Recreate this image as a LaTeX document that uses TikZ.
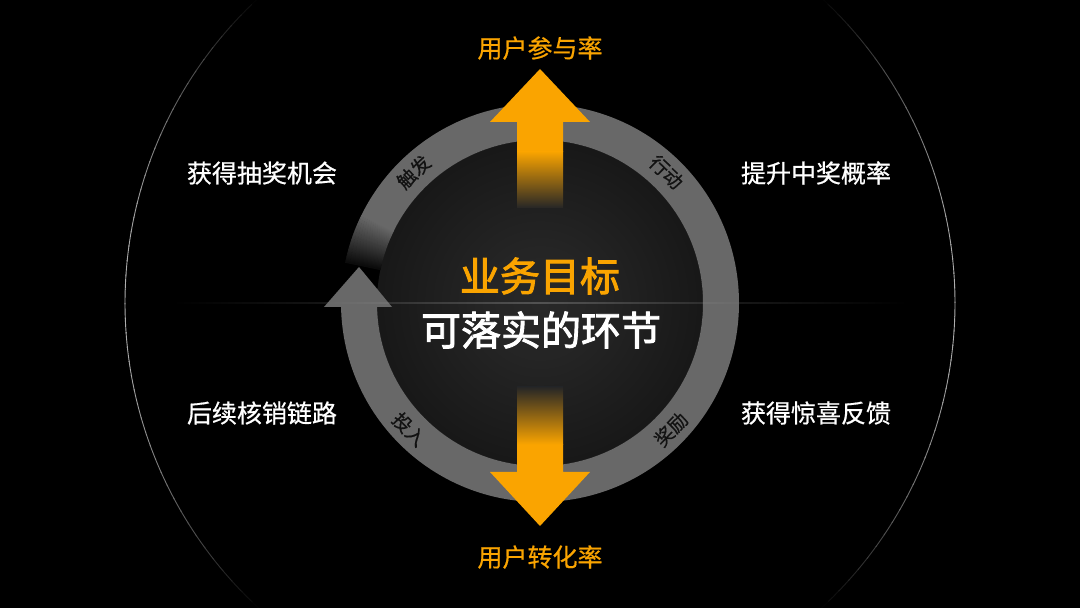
\documentclass[tikz,border=0pt]{standalone}
\usepackage{fontspec}
\setmainfont{Noto Sans CJK SC}
\newfontfamily\cjkR{Noto Sans CJK SC}[FakeBold=0.6]
\newfontfamily\cjkB{Noto Sans CJK SC}[FakeBold=2.2]
\usetikzlibrary{calc}
\definecolor{ringgray}{RGB}{104,104,104}
\definecolor{orng}{RGB}{250,164,0}
\definecolor{diskin}{RGB}{40,40,40}
\definecolor{diskout}{RGB}{4,4,4}
\definecolor{shaftend}{RGB}{38,38,38}
\definecolor{lbldark}{RGB}{18,18,18}
\pgfdeclareradialshading{diskshade}{\pgfpoint{0bp}{0bp}}{color(0bp)=(diskin); color(8bp)=(diskin!92!diskout); color(50bp)=(diskout)}
\begin{document}
\begin{tikzpicture}[x=1pt,y=1pt,
  sidelbl/.style={text=white, font=\cjkR\fontsize{25}{25}\selectfont, inner sep=0pt},
  rate/.style={text=orng, font=\cjkR\fontsize{25}{25}\selectfont, inner sep=0pt},
  titlelbl/.style={font=\cjkB\fontsize{40}{40}\selectfont, inner sep=0pt},
  ringlbl/.style={text=lbldark, font=\cjkR\fontsize{19}{19}\selectfont, inner sep=0pt},
  ringband/.style={line width=36pt}]
\fill[black] (0,0) rectangle (1080,608);
\useasboundingbox (0,0) rectangle (1080,608);
\coordinate (C) at (540,305);
% big faint outer circle, fading towards top and bottom
\foreach \a in {-52,-50,...,50,128,130,...,230}{
  \pgfmathsetmacro\b{max(0,68*(1-(abs(sin(\a+1))/0.74)^2))}
  \draw[white!\b!black, line width=0.9pt] ($(C)+(\a:415)$) arc[start angle=\a, end angle=\a+2.2, radius=415];
}
% inner disk
\shade[shading=diskshade] (C) circle (163);
% ring (clockwise flow), solid part
\draw[ringgray, ringband] ($(C)+(181:181)$) arc[start angle=181, end angle=514, radius=181];
% fading part above the arrow tip
\foreach \i in {0,...,47}{
  \pgfmathsetmacro\p{100-\i*1.9}
  \pgfmathsetmacro\sa{153.8+\i*0.3}
  \draw[ringgray!\p!black, ringband] ($(C)+(\sa:181)$) arc[start angle=\sa, end angle=\sa+0.45, radius=181];
}
% ring arrowhead
\fill[ringgray] (324,301) -- (359,341) -- (392,301) -- cycle;
% horizontal faint line
\shade[left color=black, right color=black, middle color=white, opacity=0.2] (170,304.6) rectangle (910,305.4);
% up arrow
\fill[orng] (517,486) -- (490,486) -- (540,539) -- (590,486) -- (563,486) -- (563,456) -- (517,456) -- cycle;
\shade[top color=orng, bottom color=shaftend] (517,456.5) rectangle (563,400);
% down arrow
\fill[orng] (517,136) -- (490,136) -- (540,82) -- (590,136) -- (563,136) -- (563,164) -- (517,164) -- cycle;
\shade[bottom color=orng, top color=shaftend] (517,163.5) rectangle (563,221);
% labels
\node[sidelbl] (l1) at (262,435) {获得抽奖机会};
\node[sidelbl] (l2) at (262,195) {后续核销链路};
\node[sidelbl] (r1) at (816,435) {提升中奖概率};
\node[sidelbl] (r2) at (816,195) {获得惊喜反馈};
\node[rate] (top) at (540,560) {用户参与率};
\node[rate] (bot) at (540,51) {用户转化率};
\node[titlelbl, text=orng] (t1) at (540,332) {业务目标};
\node[titlelbl, text=white] (t2) at (541,278) {可落实的环节};
\node[ringlbl, rotate=44] (k1) at ($(C)+(134:182)$) {触发};
\node[ringlbl, rotate=-44] (k2) at ($(C)+(46:182)$) {行动};
\node[ringlbl, rotate=-46] (k3) at ($(C)+(224:182)$) {投入};
\node[ringlbl, rotate=46] (k4) at ($(C)+(316:182)$) {奖励};
\end{tikzpicture}
\end{document}
